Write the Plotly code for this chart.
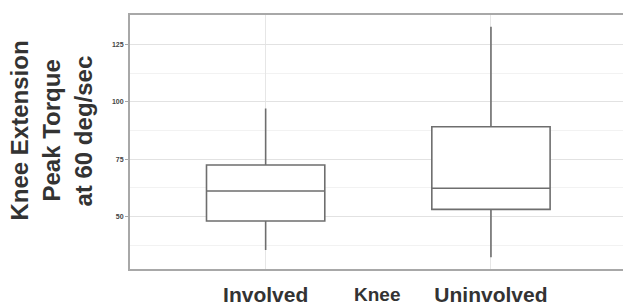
import plotly.graph_objects as go

categories = ["Involved", "Uninvolved"]
lower_whisker = [35.4, 32.2]
q1 = [48.0, 53.1]
median = [61.1, 62.3]
q3 = [72.4, 89.1]
upper_whisker = [97.1, 132.7]
y_ticks = [50, 75, 100, 125]
x_title = "Knee"
y_title_lines = ["Knee Extension", "Peak Torque", "at 60 deg/sec"]

fig = go.Figure()
fig.add_trace(go.Box(
    x=categories,
    lowerfence=lower_whisker,
    q1=q1,
    median=median,
    q3=q3,
    upperfence=upper_whisker,
    fillcolor="white",
    line=dict(color="#6e6e6e", width=1.6),
    whiskerwidth=0,
    boxpoints=False,
    showlegend=False,
    hoverinfo="skip",
))

fig.update_layout(
    width=623, height=306,
    margin=dict(l=130, r=0, t=15, b=37),
    paper_bgcolor="white", plot_bgcolor="white",
    boxgap=0.25,
    font=dict(family="Liberation Sans", color="#3a3a3a"),
    xaxis=dict(
        range=[-0.602, 1.586], automargin=False,
        showline=True, linecolor="#a8a8a8", linewidth=2, mirror=True,
        showgrid=True, gridcolor="#e6e6e6", gridwidth=1,
        ticks="", tickfont=dict(size=21, family="Liberation Sans", color="#333333", weight="bold"),
        ticklabelstandoff=6,
        zeroline=False,
    ),
    yaxis=dict(
        range=[27.1, 137.8], automargin=False,
        tickvals=y_ticks,
        showline=True, linecolor="#a8a8a8", linewidth=2,
        showgrid=True, gridcolor="#e2e2e2", gridwidth=1,
        ticks="outside", ticklen=3, tickcolor="#a8a8a8",
        tickfont=dict(size=7, color="#444444", weight="bold"),
        minor=dict(dtick=12.5, tick0=0, showgrid=True, gridcolor="#f2f2f2", gridwidth=1),
        zeroline=False,
    ),
)

fig.add_annotation(
    text="<b>%s</b>" % x_title, xref="paper", yref="paper",
    x=0.502, y=-37 / 254, yanchor="bottom", showarrow=False,
    font=dict(size=19, family="Liberation Sans", color="#333333"),
    borderpad=0,
)

for xpx, line in zip([18.5, 50.5, 82.5], y_title_lines):
    fig.add_annotation(
        text="<b>%s</b>" % line, xref="paper", yref="paper",
        x=(xpx - 130) / 493, y=(269 - 131) / 254,
        xanchor="center", yanchor="middle", textangle=-90, showarrow=False,
        font=dict(size=24, family="Liberation Sans", color="#333333"),
    )

fig.write_html(
    "out.html",
    config={"displayModeBar": False},
    post_script="document.body.style.margin='0';document.body.style.overflow='hidden';",
)
